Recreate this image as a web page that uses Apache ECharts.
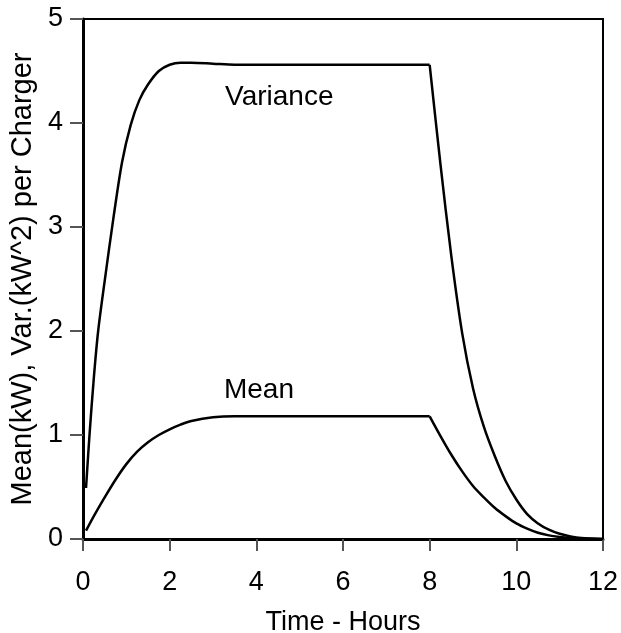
<!DOCTYPE html>
<html>
<head>
<meta charset="utf-8">
<script src="https://cdn.jsdelivr.net/npm/echarts@6/dist/echarts.min.js"></script>
<style>
  html, body { margin: 0; padding: 0; background: #fff; }
  #chart { width: 621px; height: 633px; }
</style>
</head>
<body>
<div id="chart"></div>
<script>
// Mean charger load (kW) over time in hours
const meanTime  = [0.07, 0.25, 0.5, 0.75, 1.0, 1.25, 1.5, 1.75, 2.0, 2.25, 2.5, 3.0, 3.5, 4, 5, 6, 7, 8,
                   8.25, 8.5, 8.75, 9.0, 9.25, 9.5, 9.75, 10.0, 10.25, 10.5, 10.75, 11.0, 11.25, 11.5, 12];
const meanValue = [0.08, 0.22, 0.40, 0.57, 0.72, 0.84, 0.93, 1.00, 1.055, 1.10, 1.135, 1.17, 1.18, 1.18, 1.18, 1.18, 1.18, 1.18,
                   0.99, 0.81, 0.65, 0.51, 0.40, 0.30, 0.22, 0.15, 0.10, 0.06, 0.035, 0.02, 0.01, 0.005, 0];

// Variance of charger load (kW^2) over time in hours
const varTime  = [0.07, 0.15, 0.25, 0.35, 0.5, 0.7, 0.9, 1.1, 1.3, 1.5, 1.75, 2.0, 2.25, 2.5, 3.0, 3.5, 4, 5, 6, 7, 8,
                  8.25, 8.5, 8.75, 9.0, 9.25, 9.5, 9.75, 10.0, 10.25, 10.5, 10.75, 11.0, 11.25, 11.5, 12];
const varValue = [0.49, 1.00, 1.55, 2.00, 2.48, 3.08, 3.62, 3.98, 4.22, 4.37, 4.50, 4.56, 4.58, 4.58, 4.57, 4.56, 4.56, 4.56, 4.56, 4.56, 4.56,
                  3.60, 2.72, 1.98, 1.45, 1.08, 0.80, 0.56, 0.38, 0.24, 0.15, 0.09, 0.05, 0.025, 0.01, 0];

// Hour at which charging stops and the load starts decaying
const chargeEnd = 8;

// Axis ticks
const xTicks = [0, 2, 4, 6, 8, 10, 12];
const yTicks = [0, 1, 2, 3, 4, 5];

// Curve annotations
const labelText  = ["Variance", "Mean"];
const labelTime  = [4.53, 4.06];
const labelValue = [4.25, 1.43];

const FONT = '"Liberation Sans", Arial, sans-serif';
const pairs = (xs, ys) => xs.map((x, i) => [x, ys[i]]);

// Split a curve at the end of charging so the corner stays sharp
function phases(xs, ys) {
  const all = pairs(xs, ys);
  const k = xs.indexOf(chargeEnd);
  return [all.slice(0, k + 1), all.slice(k)];
}

const chart = echarts.init(document.getElementById('chart'), null, { renderer: 'canvas' });

const curve = (name, data) => ({
  name,
  type: 'line',
  data,
  showSymbol: false,
  smooth: 0.3,
  lineStyle: { color: '#000', width: 2.5 },
  z: 3
});

const [meanA, meanB] = phases(meanTime, meanValue);
const [varA, varB] = phases(varTime, varValue);

chart.setOption({
  animation: false,
  backgroundColor: '#fff',
  grid: { left: 83, right: 18, top: 19, bottom: 94, outerBoundsMode: 'none', containLabel: false,
          show: true, borderColor: '#000', borderWidth: 2, backgroundColor: 'transparent' },
  xAxis: {
    type: 'value',
    min: xTicks[0], max: xTicks[xTicks.length - 1], interval: xTicks[1] - xTicks[0],
    name: 'Time - Hours', nameLocation: 'middle', nameGap: 70,
    nameTextStyle: { color: '#000', fontSize: 27, fontFamily: FONT },
    axisLine: { show: true, onZero: false, lineStyle: { color: '#000', width: 3 } },
    axisTick: { show: true, inside: false, length: 12, lineStyle: { color: '#555', width: 2 } },
    axisLabel: { color: '#000', fontSize: 27, fontFamily: FONT, margin: 30 },
    splitLine: { show: false }
  },
  yAxis: {
    type: 'value',
    min: yTicks[0], max: yTicks[yTicks.length - 1], interval: yTicks[1] - yTicks[0],
    name: 'Mean(kW), Var.(kW^2) per Charger', nameLocation: 'middle', nameGap: 35,
    nameTextStyle: { color: '#000', fontSize: 29, fontFamily: FONT },
    axisLine: { show: true, onZero: false, lineStyle: { color: '#000', width: 3 } },
    axisTick: { show: true, inside: false, length: 13, lineStyle: { color: '#555', width: 2 } },
    axisLabel: { color: '#000', fontSize: 27, fontFamily: FONT, margin: 20 },
    splitLine: { show: false }
  },
  series: [
    curve('Variance', varA),
    curve('Variance', varB),
    curve('Mean', meanA),
    curve('Mean', meanB),
    {
      name: 'labels',
      type: 'scatter',
      data: labelText.map((t, i) => ({ name: t, value: [labelTime[i], labelValue[i]] })),
      symbolSize: 1,
      itemStyle: { color: 'rgba(0,0,0,0)' },
      label: { show: true, position: 'inside', color: '#000', opacity: 1,
               textBorderWidth: 0, textBorderColor: 'transparent',
               fontSize: 28, fontFamily: FONT, formatter: p => p.name },
      emphasis: { disabled: true },
      silent: true,
      z: 4
    }
  ]
});
</script>
</body>
</html>
